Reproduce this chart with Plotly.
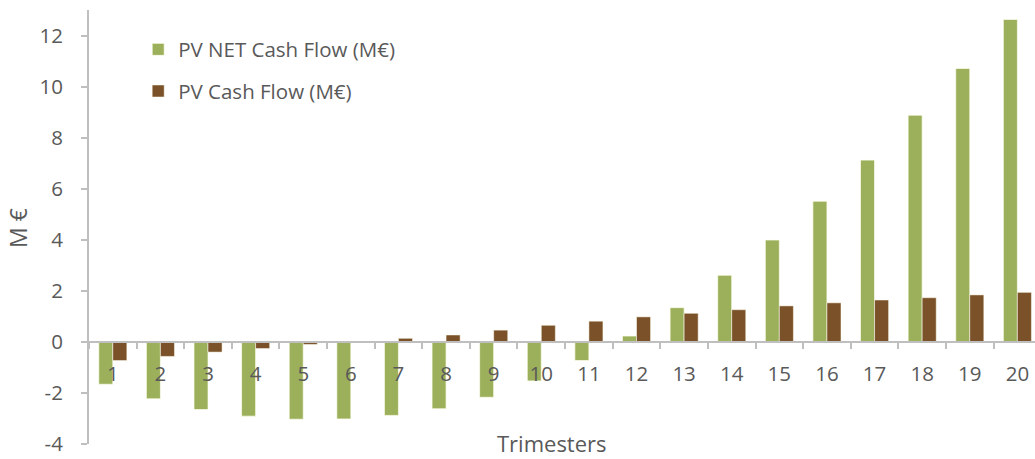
import plotly.graph_objects as go

# Quarterly present values, in millions of euros
trimesters = [str(i) for i in range(1, 21)]
pv_net_cash_flow = [-1.66, -2.23, -2.65, -2.91, -3.03, -3.02, -2.88, -2.62, -2.17, -1.53,
                    -0.73, 0.23, 1.34, 2.61, 3.99, 5.51, 7.12, 8.88, 10.71, 12.63]
pv_cash_flow = [-0.73, -0.57, -0.40, -0.26, -0.10, 0.01, 0.14, 0.27, 0.46, 0.65,
                0.81, 0.98, 1.12, 1.26, 1.41, 1.53, 1.64, 1.73, 1.84, 1.94]

y_min, y_max = -4, 13
y_ticks = [-4, -2, 0, 2, 4, 6, 8, 10, 12]
y_tick_labels = [str(v) for v in y_ticks]  # plain hyphen for negatives

FONT = "Open Sans"
TEXT = "#595959"
AXIS = "#bfbfbf"

fig = go.Figure()
fig.add_trace(go.Bar(
    x=trimesters, y=pv_net_cash_flow, name="PV NET Cash Flow (M€)",
    marker=dict(color="#9cb05c", line=dict(color="rgba(255,255,240,0.7)", width=1)),
    legendgroup="a",
))
fig.add_trace(go.Bar(
    x=trimesters, y=pv_cash_flow, name="PV Cash Flow (M€)",
    marker=dict(color="#7a5129", line=dict(color="rgba(255,255,240,0.5)", width=1)),
    legendgroup="b",
))

fig.update_layout(
    width=1035, height=459,
    margin=dict(l=89, r=0, t=10, b=15),
    paper_bgcolor="white", plot_bgcolor="white",
    barmode="group", bargap=0.41, bargroupgap=0,
    font=dict(family=FONT, size=20, color=TEXT),
    showlegend=True,
    legend=dict(
        x=0.052, y=0.955, xanchor="left", yanchor="top",
        bgcolor="rgba(0,0,0,0)", font=dict(size=20.5, color=TEXT),
        traceorder="grouped", tracegroupgap=12,
    ),
    xaxis=dict(
        type="category", range=[-0.5, 19.37],
        anchor="free", position=(0 - y_min) / (y_max - y_min),
        showline=True, linecolor=AXIS, linewidth=2,
        ticks="outside", ticklen=6, tickcolor=AXIS, tickwidth=2,
        tickson="boundaries", showgrid=False, zeroline=False,
        tickfont=dict(size=20.5, color=TEXT), ticklabelstandoff=14,
    ),
    yaxis=dict(
        range=[y_min, y_max], tickvals=y_ticks, ticktext=y_tick_labels,
        showline=True, linecolor=AXIS, linewidth=2,
        ticks="outside", ticklen=6, tickcolor=AXIS, tickwidth=2,
        showgrid=False, zeroline=False,
        tickfont=dict(size=20.5, color=TEXT), ticklabelstandoff=14,
    ),
    annotations=[
        dict(text="Trimesters", xref="paper", yref="paper", x=0.5, y=0.0,
             xanchor="center", yanchor="middle", yshift=1, xshift=-10,
             borderpad=0, showarrow=False, font=dict(size=22, color=TEXT)),
        dict(text="M €", xref="paper", yref="paper", x=-0.075, y=0.498,
             xanchor="center", yanchor="middle", textangle=-90,
             showarrow=False, font=dict(size=23, color=TEXT)),
    ],
)

fig.write_html("out.html")
